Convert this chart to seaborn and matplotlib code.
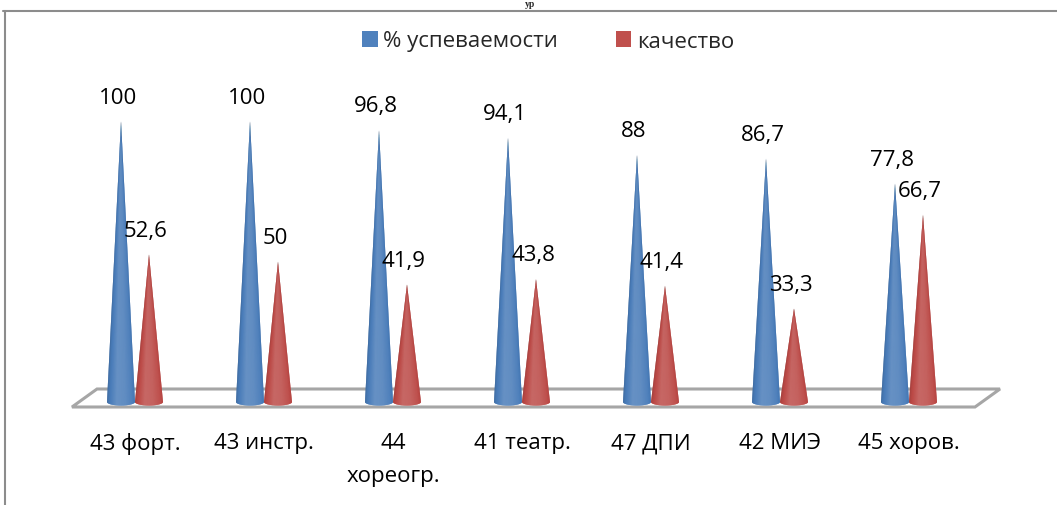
import colorsys
import numpy as np
import pandas as pd
import matplotlib
matplotlib.use("Agg")
import matplotlib.pyplot as plt
from matplotlib.patches import Patch, Polygon
from matplotlib.lines import Line2D
import seaborn as sns

# data
categories = ["43 форт.", "43 инстр.", "44\nхореогр.", "41 театр.", "47 ДПИ", "42 МИЭ", "45 хоров."]
uspevaemost = [100, 100, 96.8, 94.1, 88, 86.7, 77.8]
kachestvo = [52.6, 50, 41.9, 43.8, 41.4, 33.3, 66.7]
series_names = ["% успеваемости", "качество"]
series_colors = ["#4F81BD", "#C0504D"]

df = pd.DataFrame({
    "cat": categories * 2,
    "val": uspevaemost + kachestvo,
    "series": [series_names[0]] * len(categories) + [series_names[1]] * len(categories),
})

sns.set_theme(style="white")
plt.rcParams['font.family'] = ['Open Sans', 'DejaVu Sans']

W, H = 1057, 506
fig = plt.figure(figsize=(W / 100, H / 100), dpi=100)
ax = fig.add_axes([0, 0, 1, 1])

# invisible bars: seaborn does the categorical placement, cones are drawn on top
sns.barplot(data=df, x="cat", y="val", hue="series", palette=series_colors,
            width=0.434, legend=False, ax=ax, errorbar=None)

# pixel layout -> data limits
x0_px, step_px = 135, 129
y0_px, yscale = 403, 2.81
ax.set_xlim(-x0_px / step_px, (W - x0_px) / step_px)
ax.set_ylim(-(H - y0_px) / yscale, y0_px / yscale)
ax.axis("off")


def px2data(px, py):
    return ((px - x0_px) / step_px, (y0_px - py) / yscale)


# floor
floor = [px2data(*p) for p in [(72, 408), (97, 390), (1000, 390), (975, 408)]]
ax.add_patch(Polygon(floor, closed=True, facecolor="white", edgecolor="#a6a6a6",
                     lw=2.2, zorder=1))

ey = 3.5 / yscale


def shade(rgb, dl):
    hh, ll, ss = colorsys.rgb_to_hls(*rgb[:3])
    return colorsys.hls_to_rgb(hh, min(max(ll + dl, 0), 1), min(ss * 1.3, 1))


def cone(cx, r, h, color, n=60):
    th = np.linspace(np.pi, 2 * np.pi, n + 1)
    bx = cx + r * np.cos(th)
    by = ey * np.sin(th)
    rgb = matplotlib.colors.to_rgb(color)
    # outline first so slices have no gaps
    ax.fill(np.r_[cx, bx], np.r_[h, by], color=shade(rgb, 0.0), lw=0, zorder=3)
    for k in range(n):
        tm = 0.5 * (th[k] + th[k + 1])
        u = (np.cos(tm) + 1) / 2
        dl = np.interp(u, [0, 0.08, 0.35, 0.65, 0.9, 1], [-0.12, -0.04, 0.08, 0.06, 0.0, -0.05])
        ax.fill([cx, bx[k], bx[k + 1]], [h, by[k], by[k + 1]], color=shade(rgb, dl),
                lw=0, zorder=3)


for p in list(ax.patches):
    if not isinstance(p, matplotlib.patches.Rectangle):
        continue
    x, w, h = p.get_x(), p.get_width(), p.get_height()
    col = p.get_facecolor()
    p.set_visible(False)
    cx = x + w / 2
    cone(cx, w / 2, h, col)
    lbl = f"{h:g}".replace(".", ",")
    ax.annotate(lbl, (cx, h), xytext=(-3, 24), textcoords="offset pixels",
                ha="center", va="center", fontsize=16, color="black", zorder=5)

# category labels
for i, c in enumerate(categories):
    ax.text(i, px2data(0, 433)[1], c, ha="center", va="top", fontsize=16,
            linespacing=1.75, color="black")

# legend
handles = [Patch(facecolor=c, edgecolor="none") for c in series_colors]
fig.legend(handles, series_names, loc="center", bbox_to_anchor=(548 / W, 1 - 42 / H),
           ncol=2, frameon=False, fontsize=16, handlelength=0.7, handleheight=0.7,
           handletextpad=0.25, columnspacing=2.6)

# chart frame (partly outside the picture)
fig.add_artist(Line2D([3 / W, 1], [1 - 12 / H, 1 - 12 / H], color="#8c8c8c", lw=1.5))
fig.add_artist(Line2D([5 / W, 5 / W], [0, 1 - 12 / H], color="#8c8c8c", lw=1.5))

# title remnant at the very top
fig.text(530 / W, 1, "ур", ha="center", va="top", fontsize=7,
         fontweight="bold", family="Liberation Serif")

fig.savefig("out.png", dpi=100)
